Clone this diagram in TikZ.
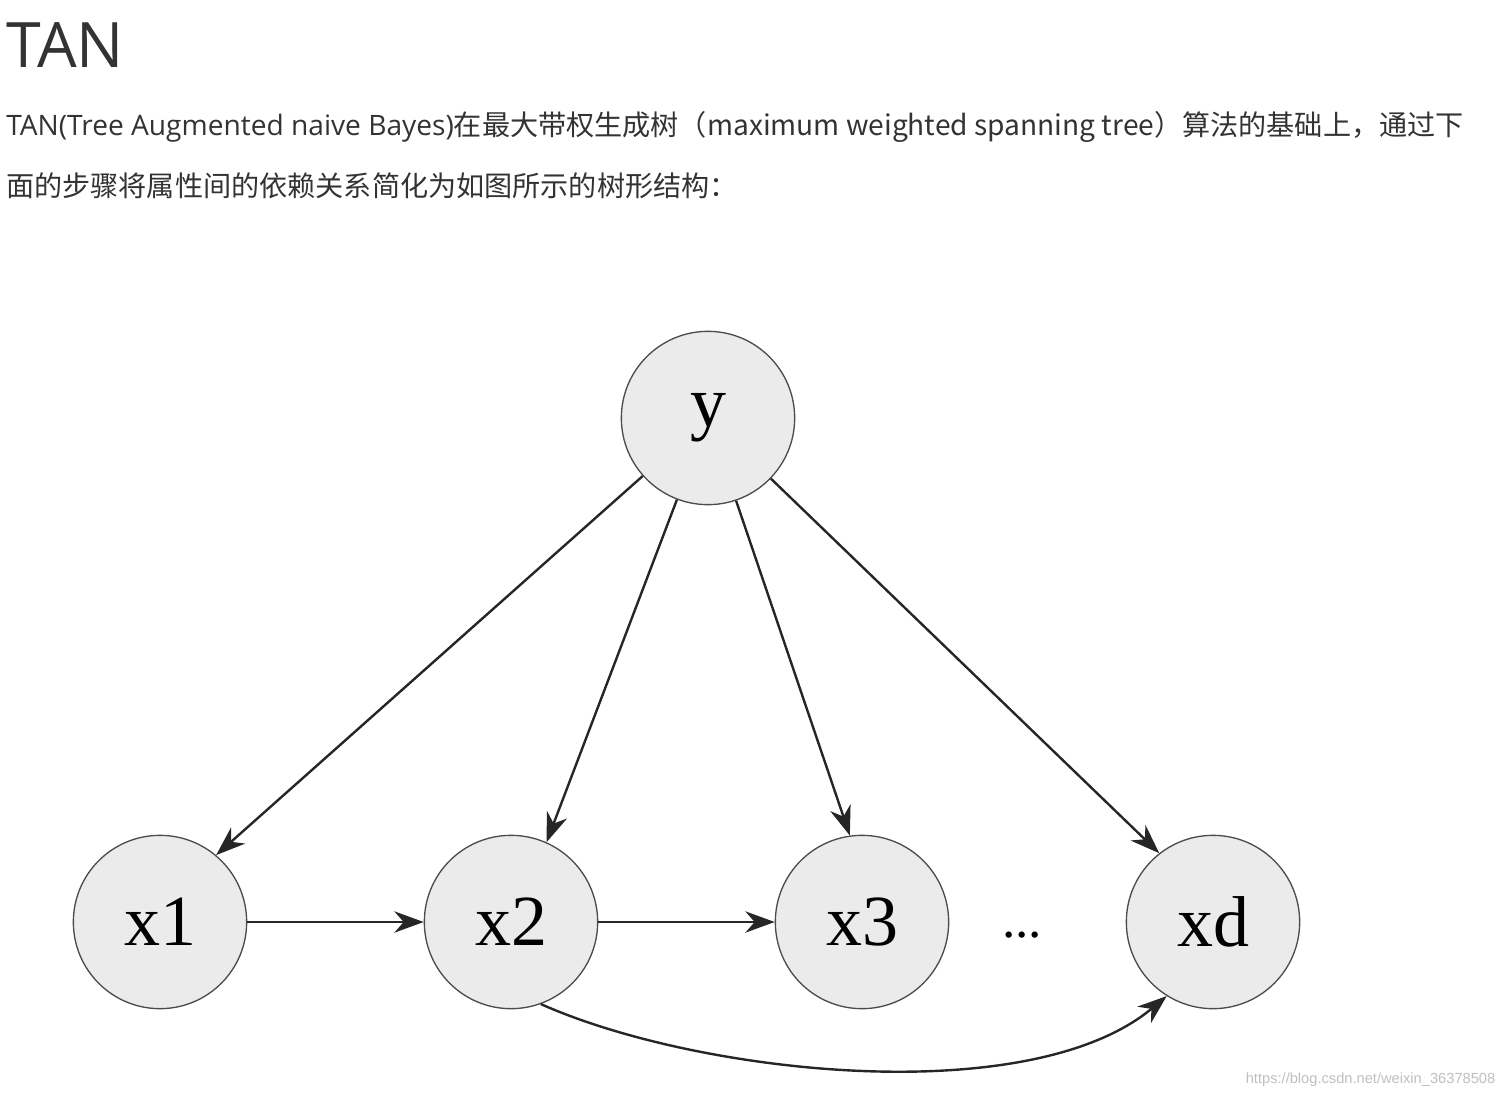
\documentclass[tikz,border=0pt]{standalone}
\usepackage{fontspec}
\setmainfont{Liberation Serif}
\newfontfamily\osans{Open Sans}
\newfontfamily\cjk{Noto Sans CJK SC}
\usetikzlibrary{arrows.meta}
\begin{document}
\begin{tikzpicture}[x=0.75pt,y=-0.75pt,
  nd/.style={circle,draw=black!70,fill=black!8,line width=1pt,minimum size=130pt,inner sep=0pt,font=\fontsize{54}{60}\selectfont},
  ar/.style={-{Stealth[length=22pt,width=16pt,inset=7pt]},line width=1.8pt,draw=black!85}]
\useasboundingbox (0,0) rectangle (1508,1098);
\node[anchor=west,text=black!80,font=\osans\fontsize{47}{50}\selectfont] (title) at (2,45) {TAN};
\node[anchor=west,text=black!80,font=\osans\fontsize{21.1}{24}\selectfont,inner sep=0pt] (p1) at (6,127) {TAN(Tree Augmented naive Bayes)\cjk{在最大带权生成树（}maximum weighted spanning tree\cjk{）算法的基础上，通过下}};
\node[anchor=west,text=black!80,font=\cjk\fontsize{21.1}{24}\selectfont,inner sep=0pt] (p2) at (6,186) {面的步骤将属性间的依赖关系简化为如图所示的树形结构：};
\node[nd] (y) at (708,418) {y};
\node[nd] (x1) at (160,922) {x1};
\node[nd] (x2) at (511,922) {x2};
\node[nd] (x3) at (862,922) {x3};
\node[nd] (xd) at (1213,922) {xd};
\node[font=\fontsize{40}{40}\selectfont] (dots) at (1022,935) {...};
\draw[ar] (y) -- (x1.50);
\draw[ar] (y) -- (x2.66);
\draw[ar] (y) -- (x3.98);
\draw[ar] (y) -- (xd.128);
\draw[ar] (x1) -- (x2);
\draw[ar] (x2) -- (x3);
\draw[ar] (x2.-70) .. controls (700,1075) and (1030,1110) .. (xd.-122);
\node[anchor=east,text=black!25,font=\fontspec{Liberation Sans}\fontsize{11}{12}\selectfont] (wm) at (1500,1080) {https://blog.csdn.net/weixin\_36378508};
\end{tikzpicture}
\end{document}
